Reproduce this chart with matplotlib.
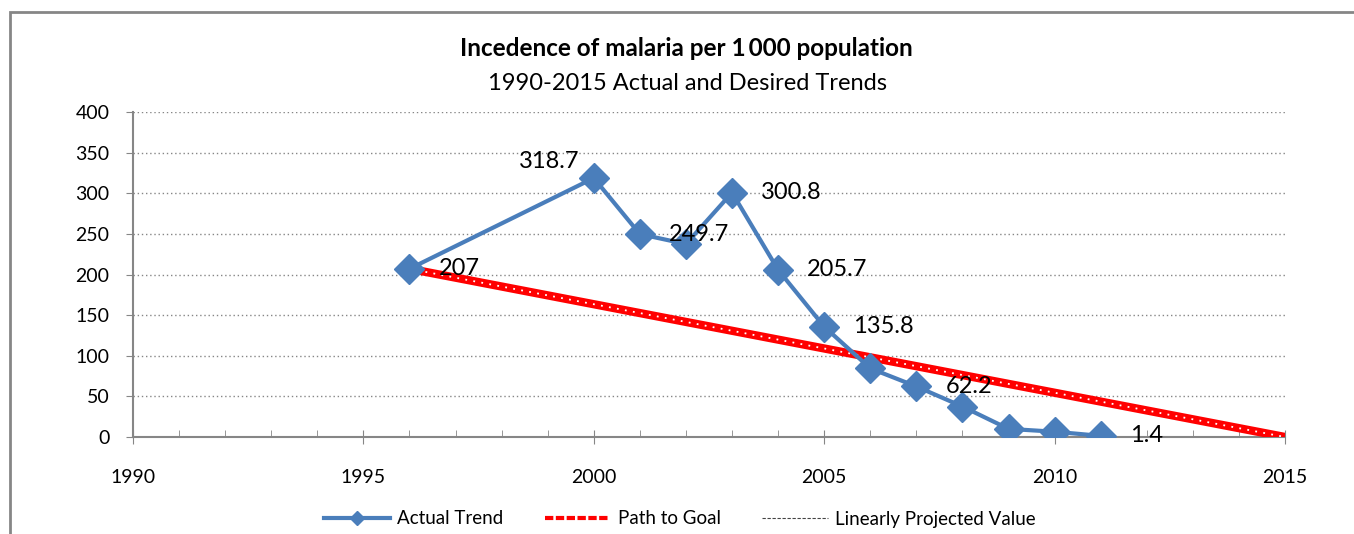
import matplotlib.pyplot as plt
from matplotlib.lines import Line2D
from matplotlib.patches import Rectangle

years = [1996, 2000, 2001, 2002, 2003, 2004, 2005, 2006, 2007, 2008, 2009, 2010, 2011]
actual = [207, 318.7, 249.7, 237.5, 300.8, 205.7, 135.8, 84.5, 62.2, 37.5, 10, 6.5, 1.4]

goal_years = [1996, 2015]
goal_values = [207, 0]

labelled = {1996: "207", 2000: "318.7", 2001: "249.7", 2003: "300.8",
            2004: "205.7", 2005: "135.8", 2007: "62.2", 2011: "1.4"}

plt.rcParams["font.family"] = ["Lato", "DejaVu Sans"]

fig = plt.figure(figsize=(13.54, 5.34), dpi=100)
ax = fig.add_axes([133 / 1354, 1 - 437 / 534, 1152 / 1354, 325 / 534])

# outer chart frame (cut off at right and bottom)
fig.patches.append(Rectangle((10 / 1354, -0.1), 1.2, 0.1 + 1 - 12 / 534,
                             transform=fig.transFigure, fill=False,
                             edgecolor="#868686", linewidth=2))

blue = "#4a7ebb"
ax.plot(goal_years, goal_values, color="#ff0000", lw=6, solid_capstyle="butt", zorder=3)
ax.plot(goal_years, goal_values, color="white", lw=1.3, linestyle=(0, (1, 3.5)), zorder=4)
ax.plot(years, actual, color=blue, lw=3, marker="D", markersize=15, zorder=5)

for x, y in zip(years, actual):
    if x in labelled:
        if x == 2000:
            ax.annotate(labelled[x], (x, y), xytext=(-10, 12), textcoords="offset points",
                        ha="right", va="center", fontsize=17, zorder=6)
        else:
            ax.annotate(labelled[x], (x, y), xytext=(21, 0), textcoords="offset points",
                        ha="left", va="center", fontsize=17, zorder=6)

ax.set_xlim(1990, 2015)
ax.set_ylim(0, 400)
ax.set_xticks(range(1990, 2016, 5))
ax.set_xticks(range(1990, 2016), minor=True)
ax.set_yticks(range(0, 401, 50))
ax.tick_params(axis="x", which="major", direction="inout", length=10, color="#868686",
               labelsize=14, pad=18)
ax.tick_params(axis="x", which="minor", direction="in", length=5, color="#868686")
ax.tick_params(axis="y", direction="out", length=5, color="#868686", labelsize=14, pad=12)
ax.grid(axis="y", color="#868686", linestyle=(0, (1, 2)), linewidth=1)
ax.set_axisbelow(True)
for s in ["top", "right"]:
    ax.spines[s].set_visible(False)
for s in ["left", "bottom"]:
    ax.spines[s].set_color("#868686")
    ax.spines[s].set_linewidth(1.5)

fig.text(686 / 1354, 1 - 48 / 534, "Incedence of malaria per 1\u2009000 population",
         ha="center", va="center", fontsize=17.5, fontweight="bold")
fig.text(688 / 1354, 1 - 83 / 534, "1990-2015 Actual and Desired Trends",
         ha="center", va="center", fontsize=17)

handles = [
    Line2D([], [], color=blue, lw=3, marker="D", markersize=7),
    Line2D([], [], color="#ff0000", lw=3, linestyle=(0, (2, 0.6))),
    Line2D([], [], color="#444444", lw=0.8, linestyle=(0, (3, 1.5))),
]
fig.legend(handles, ["Actual Trend", "Path to Goal", "Linearly Projected Value"],
           loc="center", bbox_to_anchor=(680 / 1354, 1 - 519 / 534), ncol=3,
           frameon=False, fontsize=13.5, handlelength=3.5, columnspacing=2.2,
           handletextpad=0.4)

fig.savefig("out.png", dpi=100)
